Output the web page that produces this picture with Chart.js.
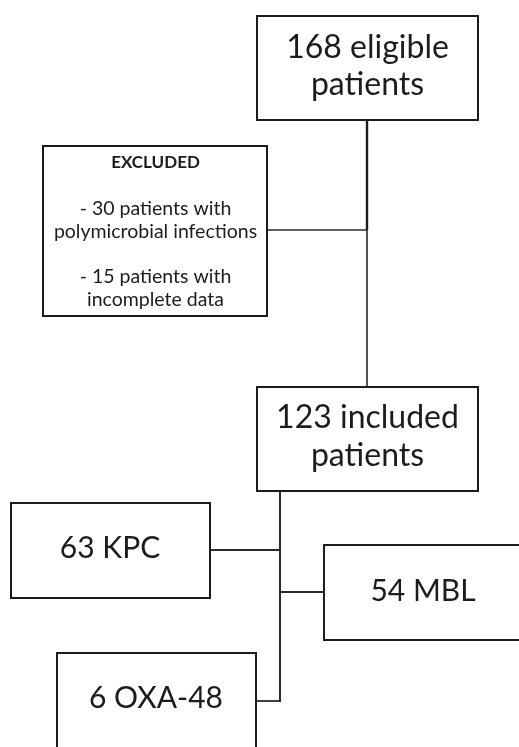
<!DOCTYPE html>
<html>
<head>
<meta charset="utf-8">
<script src="https://cdn.jsdelivr.net/npm/chart.js@4/dist/chart.umd.min.js"></script>
<style>
  html, body { margin: 0; padding: 0; background: #ffffff; }
  #wrap { width: 519px; height: 747px; }
</style>
</head>
<body>
<div id="wrap"><canvas id="c" width="519" height="747"></canvas></div>
<script>
// ---- data ----
const eligibleCount = 168;
const excludedReasons = ['polymicrobial infections', 'incomplete data'];
const excludedCounts = [30, 15];
const includedCount = 123;
const groupLabels = ['KPC', 'MBL', 'OXA-48'];
const groupCounts = [63, 54, 6];

// ---- layout (in chart units, 0..519 x, 0..747 y) ----
const boxEligible = { x0: 257, x1: 478, y0: 16, y1: 120 };
const boxExcluded = { x0: 43, x1: 267, y0: 146, y1: 316 };
const boxIncluded = { x0: 257, x1: 478, y0: 387, y1: 491 };
const groupBoxes = [
  { x0: 11, x1: 210, y0: 503, y1: 598, cx: 110, base: 558, join: 550, side: 'right' },
  { x0: 324, x1: 535, y0: 545, y1: 640, cx: 423, base: 601, join: 592, side: 'left' },
  { x0: 57, x1: 256, y0: 653, y1: 765, cx: 156, base: 708, join: 701, side: 'right' }
];
const trunkTopX = 367, trunkBottomX = 280, excludedJoinY = 230;

const flowPlugin = {
  id: 'flow',
  afterDraw(chart) {
    const ctx = chart.ctx;
    const X = v => chart.scales.x.getPixelForValue(v);
    const Y = v => chart.scales.y.getPixelForValue(v);
    const ink = '#1c1c1c';
    ctx.save();
    ctx.lineCap = 'butt';

    function line(xa, ya, xb, yb, col, w) {
      ctx.beginPath();
      ctx.strokeStyle = col || ink;
      ctx.lineWidth = w || 2;
      ctx.moveTo(X(xa), Y(ya));
      ctx.lineTo(X(xb), Y(yb));
      ctx.stroke();
    }
    function box(b) {
      ctx.fillStyle = '#ffffff';
      ctx.fillRect(X(b.x0), Y(b.y0), X(b.x1) - X(b.x0), Y(b.y1) - Y(b.y0));
      ctx.strokeStyle = ink;
      ctx.lineWidth = 2;
      ctx.strokeRect(X(b.x0), Y(b.y0), X(b.x1) - X(b.x0), Y(b.y1) - Y(b.y0));
    }
    function text(s, cx, base, font) {
      ctx.font = font;
      ctx.fillStyle = ink;
      ctx.textAlign = 'center';
      ctx.textBaseline = 'alphabetic';
      ctx.fillText(s, X(cx), Y(base));
    }

    // connectors
    line(trunkTopX, boxEligible.y1, trunkTopX, excludedJoinY, '#1c1c1c', 2.4);
    line(trunkTopX, excludedJoinY, trunkTopX, boxIncluded.y0, '#555555', 2);
    line(boxExcluded.x1, excludedJoinY, trunkTopX, excludedJoinY, '#2a2a2a', 1.6);
    line(trunkBottomX, boxIncluded.y1, trunkBottomX, groupBoxes[2].join + 1, '#2a2a2a', 2);
    groupBoxes.forEach(b => {
      const edge = b.side === 'right' ? b.x1 : b.x0;
      line(edge, b.join, trunkBottomX, b.join, '#2a2a2a', 1.8);
    });

    // boxes
    box(boxEligible);
    box(boxExcluded);
    box(boxIncluded);
    groupBoxes.forEach(box);

    const big = '32px Lato';
    const mid = '30px Lato';
    const small = '19.5px Lato';
    const cxTop = (boxEligible.x0 + boxEligible.x1) / 2;
    text(eligibleCount + ' eligible', cxTop, 58, big);
    text('patients', cxTop, 95, big);

    const cxEx = (boxExcluded.x0 + boxExcluded.x1) / 2 + 0.5;
    text('EXCLUDED', cxEx, 168, 'bold 17px Lato');
    text('- ' + excludedCounts[0] + ' patients with', cxEx, 215, small);
    text(excludedReasons[0], cxEx, 238, small);
    text('- ' + excludedCounts[1] + ' patients with', cxEx, 283, small);
    text(excludedReasons[1], cxEx, 306, small);

    text(includedCount + ' included', cxTop, 428, big);
    text('patients', cxTop, 466, big);

    groupBoxes.forEach((b, i) => {
      text(groupCounts[i] + ' ' + groupLabels[i], b.cx, b.base, mid);
    });
    ctx.restore();
  }
};

new Chart(document.getElementById('c'), {
  type: 'scatter',
  data: { datasets: [{ data: [], pointRadius: 0 }] },
  options: {
    responsive: false,
    animation: false,
    devicePixelRatio: 1,
    layout: { padding: 0 },
    plugins: { legend: { display: false }, tooltip: { enabled: false } },
    scales: {
      x: { type: 'linear', min: 0, max: 519, display: false },
      y: { type: 'linear', min: 0, max: 747, reverse: true, display: false }
    }
  },
  plugins: [flowPlugin]
});
</script>
</body>
</html>
